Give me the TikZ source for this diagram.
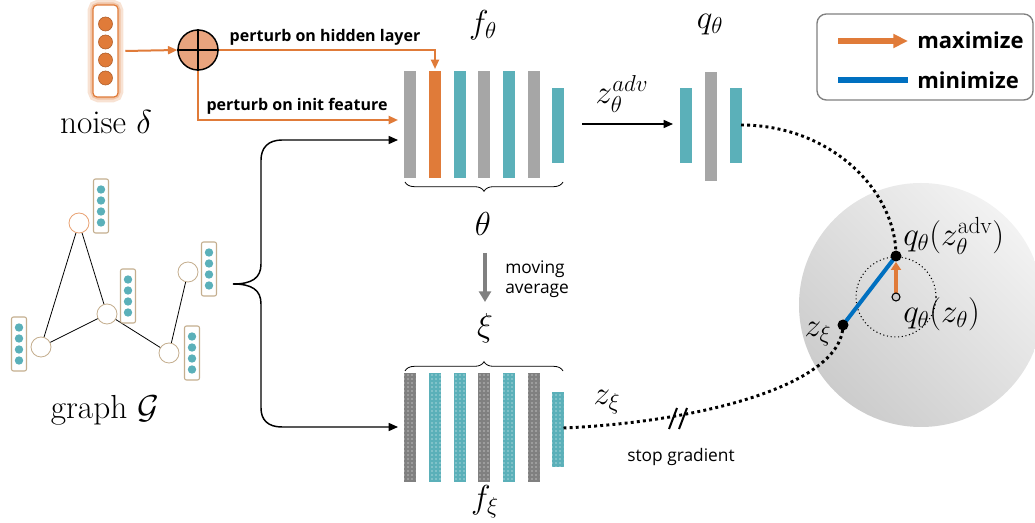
\documentclass[tikz,border=0pt]{standalone}
\usepackage{fontspec}
\usepackage{amsmath, amssymb}
\usetikzlibrary{arrows.meta, patterns, decorations.pathreplacing}
\newfontfamily\labelfont{Open Sans}
\definecolor{pertOrange}{RGB}{224,123,57}
\definecolor{plusFill}{RGB}{233,164,126}
\definecolor{layerTeal}{RGB}{91,176,185}
\definecolor{layerGray}{RGB}{166,166,166}
\definecolor{emaGray}{RGB}{128,128,128}
\definecolor{nodeTan}{RGB}{196,174,142}
\definecolor{minBlue}{RGB}{0,112,192}
\definecolor{boxGray}{RGB}{128,128,128}

\tikzset{
  blackarrow/.style={line width=1.1pt, -{Triangle[length=7pt,width=6pt]}},
  orangearrow/.style={draw=pertOrange, line width=1.5pt, -{Triangle[length=7pt,width=6pt]}},
  dotline/.style={line width=2.2pt, dash pattern=on 2.2pt off 2.4pt},
  mathlab/.style={inner sep=0.75pt, font=\fontsize{23}{27}\selectfont},
  spherelab/.style={inner sep=0.75pt, anchor=west, font=\fontsize{25}{29}\selectfont},
  bigserif/.style={inner sep=0.75pt, font=\fontsize{25}{29}\selectfont},
  perturblab/.style={inner sep=0.75pt, font=\labelfont\bfseries\fontsize{12}{14}\selectfont},
  notelab/.style={inner sep=0.75pt, font=\labelfont\fontsize{13}{15}\selectfont, align=left},
  legendlab/.style={inner sep=0.75pt, anchor=west, font=\labelfont\bfseries\fontsize{16.5}{18}\selectfont},
  gnode/.style={circle, draw=nodeTan, fill=white, line width=0.6pt, minimum size=15pt, inner sep=0pt},
  featbox/.style={draw=nodeTan, fill=white, rounded corners=1.5pt, line width=0.8pt, minimum width=11.25pt, minimum height=40.5pt, inner sep=0pt},
  layerbrace/.style={decorate, decoration={brace, amplitude=7pt}, line width=0.6pt},
}

\begin{document}
\begin{tikzpicture}[x=0.75pt,y=0.75pt,yscale=-1,xscale=1]
    \useasboundingbox (0,0) rectangle (1035,523);

    % Sphere
    \shade[top color=gray!10, bottom color=gray!40, shading angle=-45] (921,305) circle (122);

    % Noise vector
    \draw[pertOrange!22, line width=8pt, rounded corners=4pt] (93,5) rectangle (118,97);
    \draw[pertOrange!45, line width=4pt, rounded corners=4pt] (93,5) rectangle (118,97);
    \node[draw=pertOrange, fill=white, line width=0.9pt, rounded corners=3pt, minimum width=18.75pt, minimum height=69pt, inner sep=0pt] (noise) at (105.5,51) {};
    \foreach \k in {-1.5,-0.5,0.5,1.5}
      \draw[draw=pertOrange!80!black, fill=pertOrange, line width=0.5pt] (105.5,51+\k*18) circle (7);
    % Text Node
    \node[bigserif] (noiselab) at (106,122) {noise $\delta$};

    % Perturbation
    \node[circle, draw, fill=plusFill, line width=1.1pt, minimum size=30pt, inner sep=0pt] (plus) at (198,50) {};
    \draw[line width=1.1pt] (plus.north) -- (plus.south) (plus.west) -- (plus.east);
    \coordinate (hidtop) at (435,69);
    \coordinate (initin) at (398,120);
    \draw[orangearrow] ([xshift=5pt]noise.east) -- (plus.west);
    \draw[orangearrow] (plus.east) -| (hidtop);
    \draw[orangearrow] (plus.south) |- (initin);
    \node[perturblab] (hidlab) at (325,37) {perturb on hidden layer};
    \node[perturblab] (initlab) at (297,106) {perturb on init feature};

    % Graph
    \node[gnode, draw=pertOrange!70] (g1) at (79,223) {};
    \node[gnode] (g2) at (107,314) {};
    \node[gnode] (g3) at (41,347) {};
    \node[gnode] (g4) at (169,353) {};
    \node[gnode] (g5) at (188,272) {};
    \draw[line width=0.6pt] (g1) -- (g3) (g1) -- (g2) (g3) -- (g2) (g2) -- (g4) (g4) -- (g5);
    \foreach \n/\x/\y in {1/101/206, 2/128/296, 3/19/344, 4/192/353, 5/209/269} {
      \node[featbox] (feat\n) at (\x,\y) {};
      \foreach \k in {-1.5,-0.5,0.5,1.5}
        \fill[layerTeal] (\x,\y+\k*11) circle (4.2);
    }
    % Text Node
    \node[bigserif] (graphlab) at (105,410) {graph $\mathcal{G}$};

    % Split to both encoders
    \coordinate (gsplit) at (233,284);
    \coordinate (ftin) at (398,140);
    \coordinate (fxin) at (398,427);
    \draw[blackarrow] (gsplit) .. controls (252,284) and (261,278) .. (261,264) -- (261,160) .. controls (261,148) and (268,140) .. (282,140) -- (ftin);
    \draw[blackarrow] (gsplit) .. controls (252,284) and (261,290) .. (261,304) -- (261,408) .. controls (261,420) and (268,427) .. (282,427) -- (fxin);

    % Online encoder f_theta
    \foreach \x/\c in {404/layerGray, 429/pertOrange, 454/layerTeal, 478/layerGray, 503/layerTeal, 528/layerGray}
      \fill[\c] (\x,71) rectangle ++(11.5,107);
    \fill[layerTeal] (552,88) rectangle ++(11.5,75);
    \node[mathlab] (ftlab) at (483,25) {$f_\theta$};
    \draw[layerbrace] (563,182) -- (405,182);
    \node[mathlab] (thlab) at (483,224) {$\theta$};

    % Predictor q_theta
    \fill[layerTeal] (680,88) rectangle ++(11.5,75);
    \fill[layerGray] (705,72) rectangle ++(11.5,109);
    \fill[layerTeal] (730,88) rectangle ++(11.5,75);
    \node[mathlab] (qtlab) at (710,25) {$q_\theta$};
    \coordinate (ftout) at (582,124);
    \coordinate (qtin) at (673,124);
    \draw[blackarrow] (ftout) -- (qtin);
    \node[mathlab] (zadv) at (622,94) {$z_\theta^{adv}$};

    % Moving average
    \coordinate (maTop) at (485,253);
    \coordinate (maBot) at (485,302);
    \draw[emaGray, line width=3pt, -{Triangle[length=8pt,width=9pt]}] (maTop) -- (maBot);
    \node[notelab, anchor=west] (malab) at (504,279) {moving\\average};

    % Target encoder f_xi
    \node[mathlab] (xilab) at (485,328) {$\xi$};
    \draw[layerbrace] (405,371) -- (563,371);
    \foreach \x/\c in {404/emaGray, 429/layerTeal, 454/layerTeal, 478/emaGray, 503/layerTeal, 528/emaGray} {
      \fill[\c] (\x,373) rectangle ++(11.5,109);
      \fill[pattern=dots, pattern color=white] (\x,373) rectangle ++(11.5,109);
    }
    \fill[layerTeal] (552,392) rectangle ++(11.5,75);
    \fill[pattern=dots, pattern color=white] (552,392) rectangle ++(11.5,75);
    \node[mathlab] (fxlab) at (485,502) {$f_\xi$};

    % Embedding space
    \coordinate (qout) at (741,125);
    \coordinate (fxout) at (563.5,428);
    \coordinate (qadv) at (896,256);
    \coordinate (qz) at (896,297);
    \coordinate (zxipt) at (843,325);
    \coordinate (stopmark) at (678,418);
    \draw[dotline] (qout) .. controls (830,125) and (896,190) .. (qadv);
    \draw[dotline] (fxout) .. controls (700,422) and (843,385) .. (zxipt);
    \draw[line width=1.5pt] ([shift={(-9,11)}]stopmark) -- ([shift={(-1,-10)}]stopmark);
    \draw[line width=1.5pt] ([shift={(1,11)}]stopmark) -- ([shift={(9,-10)}]stopmark);
    \node[notelab] (stoplab) at (681,457) {stop gradient};
    \node[mathlab] (zxilab) at (607,402) {$z_\xi$};

    \draw[dotted, line width=0.8pt] (qz) circle (40);
    \draw[minBlue, line width=3pt] (zxipt) -- (qadv);
    \draw[pertOrange, line width=3pt, -{Triangle[length=6pt,width=7.5pt]}] ([yshift=-3pt]qz) -- ([yshift=4.5pt]qadv);
    \fill (qadv) circle (5.5);
    \fill (zxipt) circle (5.5);
    \draw[fill=gray!40, line width=0.8pt] (qz) circle (4);
    \node[spherelab] (qadvlab) at (902,236) {$q_\theta(z_\theta^{\mathrm{adv}})$};
    \node[spherelab] (qzlab) at (902,314) {$q_\theta(z_\theta)$};
    \node[spherelab, anchor=center] (zxiptlab) at (818,334) {$z_\xi$};

    % Legend
    \draw[boxGray, line width=1pt, rounded corners=7pt] (817,14) rectangle (1033,100);
    \coordinate (maxA) at (838,41);
    \coordinate (maxB) at (908,41);
    \coordinate (minA) at (838,80);
    \coordinate (minB) at (908,80);
    \draw[pertOrange, line width=4.5pt, -{Triangle[length=11pt,width=10pt]}] (maxA) -- (maxB);
    \draw[minBlue, line width=4.5pt] (minA) -- (minB);
    \node[legendlab] (maxlab) at (916,40) {maximize};
    \node[legendlab] (minlab) at (916,80) {minimize};
\end{tikzpicture}
\end{document}
